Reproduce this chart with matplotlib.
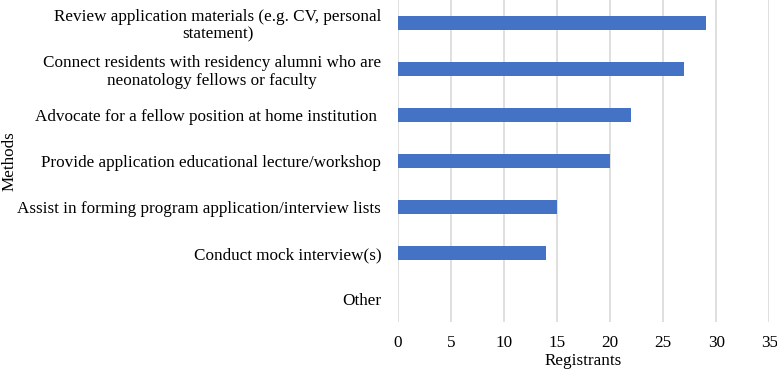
import matplotlib.pyplot as plt
import numpy as np

plt.rcParams['font.family'] = ['Liberation Serif', 'DejaVu Serif']

# 数据
methods = [
    'Review application materials (e.g. CV, personal\nstatement)',
    'Connect residents with residency alumni who are\nneonatology fellows or faculty',
    'Advocate for a fellow position at home institution ',
    'Provide application educational lecture/workshop',
    'Assist in forming program application/interview lists',
    'Conduct mock interview(s)',
    'Other',
]
registrants = [29, 27, 22, 20, 15, 14, 0]
x_ticks = [0, 5, 10, 15, 20, 25, 30, 35]

fs = 12.3

fig = plt.figure(figsize=(7.77, 3.75), dpi=100)
ax = fig.add_axes([0.512, 0.141, 0.478, 0.859])

y = np.arange(len(methods))
ax.barh(y, registrants, height=0.3, color='#4472C4', zorder=3)
ax.set_ylim(len(methods) - 0.5, -0.5)

ax.set_xlim(0, 35)
ax.set_xticks(x_ticks)
ax.grid(axis='x', color='#d9d9d9', linewidth=1.2, zorder=0)
for s in ax.spines.values():
    s.set_visible(False)
ax.tick_params(axis='both', length=0, labelsize=fs)
ax.tick_params(axis='y', pad=12)
ax.tick_params(axis='x', pad=9)

ax.set_yticks(y)
ax.set_yticklabels(methods, multialignment='center', linespacing=1.15)

ax.set_xlabel('Registrants', fontsize=fs, labelpad=2)
fig.text(0.012, 0.57, 'Methods', rotation=90, fontsize=fs, ha='center', va='center')

fig.savefig('out.png', dpi=100)
